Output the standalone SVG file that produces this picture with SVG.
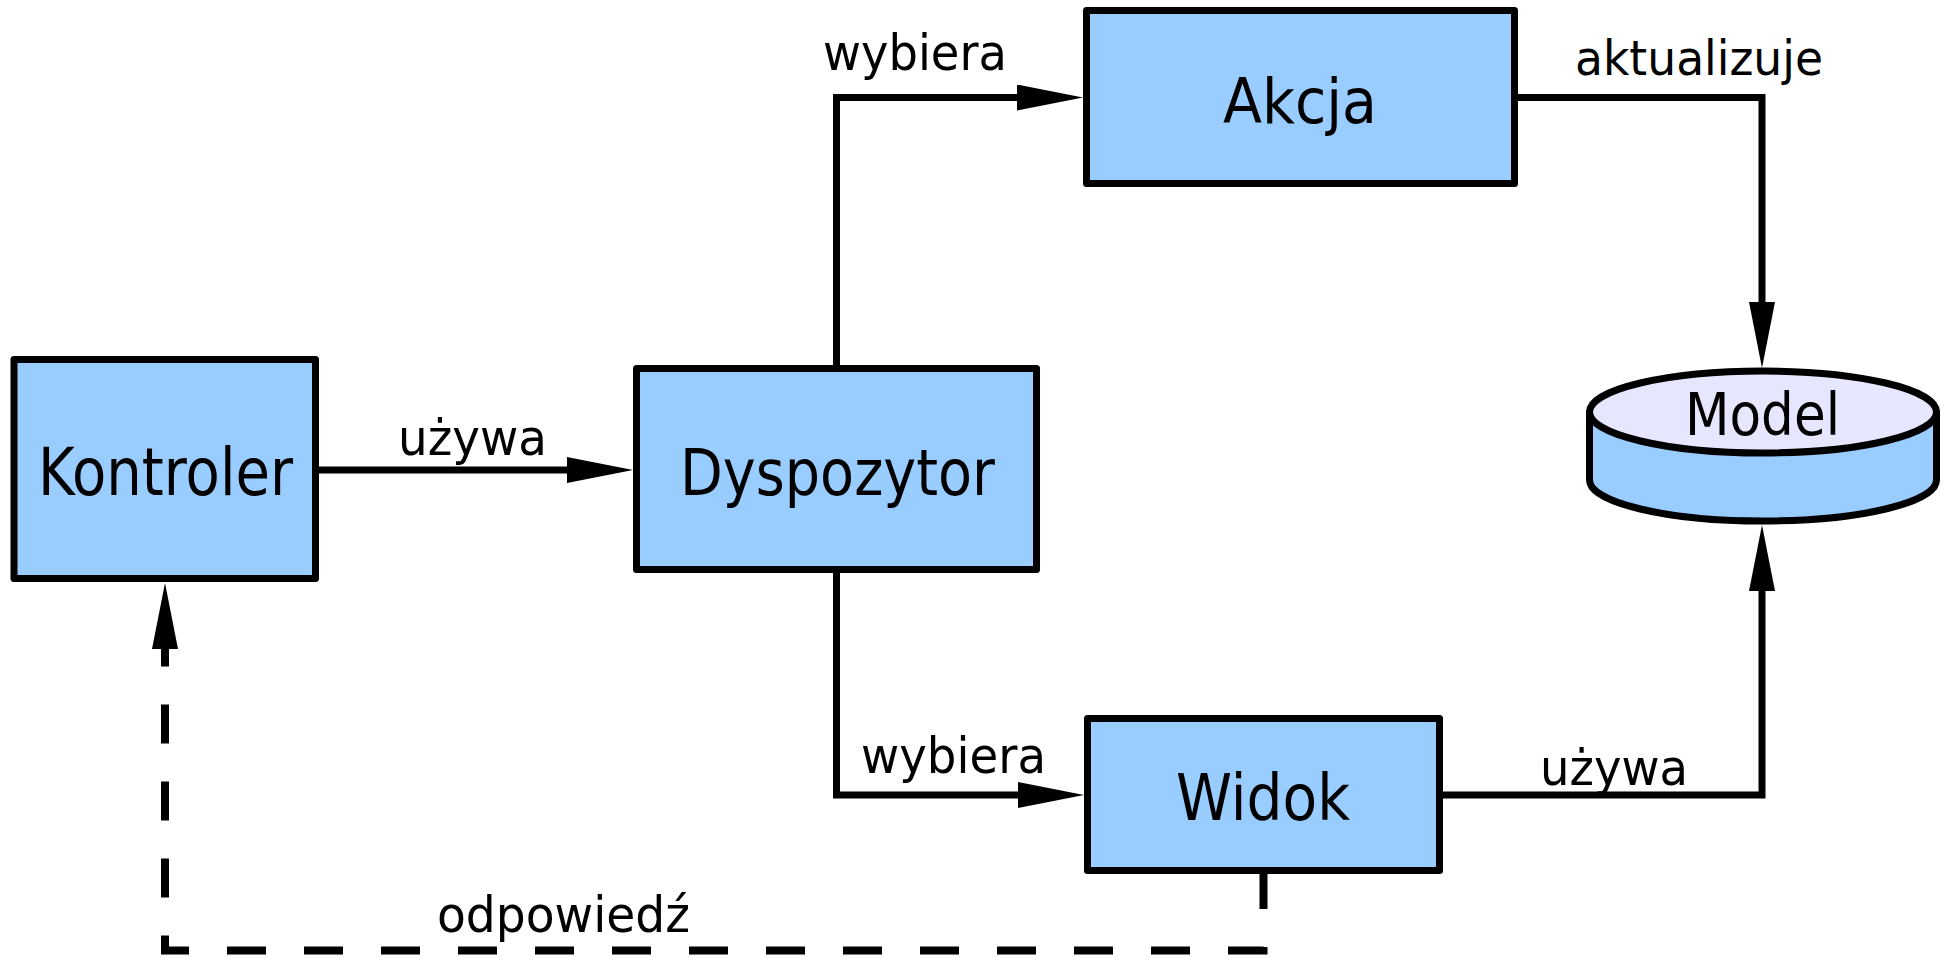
<svg xmlns="http://www.w3.org/2000/svg" width="1956" height="957" viewBox="0 0 1956 957">
<style>
.box{fill:#99ccff;stroke:#000;stroke-width:7;stroke-linejoin:round}
.top{fill:#e6e6ff;stroke:#000;stroke-width:7}
.t{font-family:"DejaVu Sans","Liberation Sans",sans-serif;fill:#000}
.c{fill:none;stroke:#000;stroke-width:7;stroke-linejoin:miter}
.d{stroke-dasharray:39 38;stroke-dashoffset:4;stroke-width:8}
</style>
<defs>
<marker id="ah" markerUnits="userSpaceOnUse" markerWidth="66" markerHeight="26" viewBox="0 0 66 26" refX="2" refY="13" orient="auto">
<path d="M0,0 L66,13 L0,26 Z" fill="#000"/>
</marker>
</defs>
<rect width="1956" height="957" fill="#fff"/>
<g id="connectors">
<path class="c" d="M319,470 H569" marker-end="url(#ah)"/>
<path class="c" d="M836.5,365 V97.5 H1019" marker-end="url(#ah)"/>
<path class="c" d="M1518,97.5 H1762 V304" marker-end="url(#ah)"/>
<path class="c" d="M836.5,573 V795 H1020" marker-end="url(#ah)"/>
<path class="c" d="M1443,795 H1762 V589" marker-end="url(#ah)"/>
<path class="c d" d="M1263.5,874 V950.5 H165 V647" marker-end="url(#ah)"/>
<text class="t" x="398" y="455" font-size="50" textLength="149" lengthAdjust="spacingAndGlyphs">używa</text>
<text class="t" x="823" y="70" font-size="50" textLength="184" lengthAdjust="spacingAndGlyphs">wybiera</text>
<text class="t" x="1575" y="75" font-size="48" textLength="248" lengthAdjust="spacingAndGlyphs">aktualizuje</text>
<text class="t" x="861" y="773" font-size="50" textLength="185" lengthAdjust="spacingAndGlyphs">wybiera</text>
<text class="t" x="1540" y="785" font-size="50" textLength="148" lengthAdjust="spacingAndGlyphs">używa</text>
<text class="t" x="437" y="932" font-size="50" textLength="253" lengthAdjust="spacingAndGlyphs">odpowiedź</text>
</g>
<g id="kontroler">
<rect class="box" x="14" y="359.5" width="301.5" height="219"/>
<text class="t" x="38" y="495" font-size="66" textLength="255" lengthAdjust="spacingAndGlyphs">Kontroler</text>
</g>
<g id="dyspozytor">
<rect class="box" x="636.5" y="368.5" width="400" height="201"/>
<text class="t" x="680" y="495" font-size="64" textLength="315" lengthAdjust="spacingAndGlyphs">Dyspozytor</text>
</g>
<g id="akcja">
<rect class="box" x="1086.5" y="10.5" width="428" height="173"/>
<text class="t" x="1223" y="123" font-size="63" textLength="154" lengthAdjust="spacingAndGlyphs">Akcja</text>
</g>
<g id="widok">
<rect class="box" x="1087.5" y="718.5" width="352" height="152"/>
<text class="t" x="1176" y="820" font-size="64" textLength="174" lengthAdjust="spacingAndGlyphs">Widok</text>
</g>
<g id="model">
<path class="box" d="M1589.5,412 V480 A173.5,41 0 0 0 1936.5,480 V412 Z"/>
<ellipse class="top" cx="1763" cy="412" rx="173.5" ry="41"/>
<text class="t" x="1685" y="435" font-size="58" textLength="155" lengthAdjust="spacingAndGlyphs">Model</text>
</g>
</svg>
